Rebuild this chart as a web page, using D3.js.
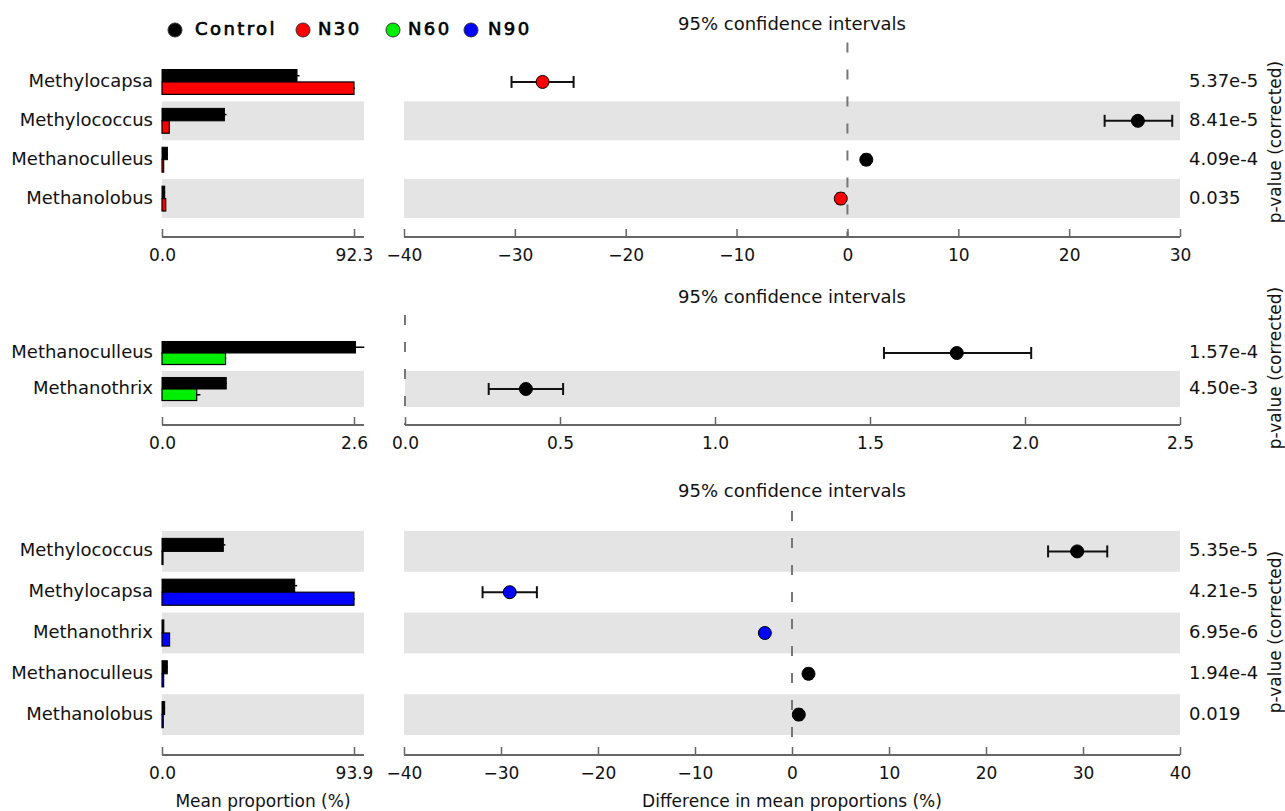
<!DOCTYPE html>
<html>
<head>
<meta charset="utf-8">
<script src="https://cdn.jsdelivr.net/npm/d3@7"></script>
<style>
  body { margin: 0; background: #fff; }
  svg text { font-family: "DejaVu Sans", sans-serif; }
</style>
</head>
<body>
<div id="chart-area"></div>
<script>
// legend
var groups = ["Control", "N30", "N60", "N90"];
var groupColors = ["#000000", "#ff0000", "#00ee00", "#0000ff"];

// panel 1: Control vs N30
var taxa1 = ["Methylocapsa", "Methylococcus", "Methanoculleus", "Methanolobus"];
var control1 = [64.9, 30.0, 2.6, 1.3];
var controlErr1 = [1.2, 1.0, 0.3, 0.2];
var treat1 = [92.3, 3.5, 0.8, 1.8];
var treatErr1 = [0.4, 0.3, 0.1, 0.1];
var diff1 = [-27.5, 26.2, 1.7, -0.6];
var ciLow1 = [-30.3, 23.2, 1.4, -0.9];
var ciHigh1 = [-24.7, 29.3, 2.0, -0.3];
var pvals1 = ["5.37e-5", "8.41e-5", "4.09e-4", "0.035"];
var barMax1 = 92.3;
var ciDomain1 = [-40, 30];
var ciTicks1 = [-40, -30, -20, -10, 0, 10, 20, 30];

// panel 2: Control vs N60
var taxa2 = ["Methanoculleus", "Methanothrix"];
var control2 = [2.62, 0.87];
var controlErr2 = [0.12, 0.01];
var treat2 = [0.86, 0.47];
var treatErr2 = [0.01, 0.05];
var diff2 = [1.78, 0.39];
var ciLow2 = [1.545, 0.27];
var ciHigh2 = [2.02, 0.51];
var pvals2 = ["1.57e-4", "4.50e-3"];
var barMax2 = 2.6;
var ciDomain2 = [0, 2.5];
var ciTicks2 = [0.0, 0.5, 1.0, 1.5, 2.0, 2.5];

// panel 3: Control vs N90
var taxa3 = ["Methylococcus", "Methylocapsa", "Methanothrix", "Methanoculleus", "Methanolobus"];
var control3 = [30.0, 64.9, 0.9, 2.6, 1.3];
var controlErr3 = [1.0, 1.2, 0.05, 0.3, 0.2];
var treat3 = [0.3, 93.9, 3.7, 0.8, 0.6];
var treatErr3 = [0.05, 0.4, 0.2, 0.1, 0.1];
var diff3 = [29.4, -29.1, -2.8, 1.7, 0.7];
var ciLow3 = [26.4, -31.9, -3.1, 1.4, 0.4];
var ciHigh3 = [32.5, -26.3, -2.5, 2.0, 1.0];
var pvals3 = ["5.35e-5", "4.21e-5", "6.95e-6", "1.94e-4", "0.019"];
var barMax3 = 93.9;
var ciDomain3 = [-40, 40];
var ciTicks3 = [-40, -30, -20, -10, 0, 10, 20, 30, 40];

var width = 1285, height = 811;

var svg = d3.select("#chart-area").append("svg")
    .attr("width", width)
    .attr("height", height);

var barX0 = 162, barX1 = 354, barEnd = 364;
var ciX0 = 404, ciX1 = 1180;
var axisColor = "#666";
var bandColor = "#e4e4e4";

function fmtTick(d) {
    return d < 0 ? "\u2212" + Math.abs(d) : String(d);
}

function drawPanel(cfg) {
    var n = cfg.taxa.length;
    var g = svg.append("g");
    var ciStart = cfg.ciStart || ciX0;

    var y = d3.scaleBand()
        .domain(cfg.taxa)
        .range([cfg.top, cfg.bottom])
        .padding(0);

    var xBar = d3.scaleLinear().domain([0, cfg.barMax]).range([barX0, barX1]);
    var xCi = d3.scaleLinear().domain(cfg.ciDomain).range([ciStart, ciX1]);

    // alternating bands (bottom row gray)
    cfg.taxa.forEach(function(t, i) {
        if ((n - 1 - i) % 2 === 0) {
            g.append("rect")
                .attr("x", barX0).attr("y", y(t))
                .attr("width", barEnd - barX0).attr("height", y.bandwidth())
                .attr("fill", bandColor);
            g.append("rect")
                .attr("x", ciStart).attr("y", y(t))
                .attr("width", ciX1 - ciStart).attr("height", y.bandwidth())
                .attr("fill", bandColor);
        }
    });

    // title
    g.append("text")
        .attr("x", (ciX0 + ciX1) / 2)
        .attr("y", cfg.titleY)
        .attr("text-anchor", "middle")
        .attr("dominant-baseline", "middle")
        .attr("font-size", "18px")
        .attr("fill", "#111")
        .text("95% confidence intervals");

    // zero line
    g.append("line")
        .attr("x1", xCi(0)).attr("x2", xCi(0))
        .attr("y1", cfg.top - 20).attr("y2", cfg.axisY)
        .attr("stroke", "#777")
        .attr("stroke-width", 2)
        .attr("stroke-dasharray", "10,17");

    // bars
    var bh = y.bandwidth() * 0.32;
    cfg.taxa.forEach(function(t, i) {
        var cy = y(t) + y.bandwidth() / 2;
        g.append("rect")
            .attr("x", barX0).attr("y", cy - bh)
            .attr("width", Math.max(1, xBar(cfg.control[i]) - barX0)).attr("height", bh)
            .attr("fill", "#000").attr("stroke", "#000").attr("stroke-width", 1);
        g.append("rect")
            .attr("x", barX0).attr("y", cy)
            .attr("width", Math.max(1, xBar(cfg.treat[i]) - barX0)).attr("height", bh)
            .attr("fill", cfg.color).attr("stroke", "#000").attr("stroke-width", 1.2);
        // error whiskers
        g.append("line")
            .attr("x1", xBar(cfg.control[i])).attr("x2", xBar(cfg.control[i] + cfg.controlErr[i]))
            .attr("y1", cy - bh / 2).attr("y2", cy - bh / 2)
            .attr("stroke", "#000").attr("stroke-width", 1.5);
        g.append("line")
            .attr("x1", xBar(cfg.treat[i])).attr("x2", xBar(cfg.treat[i] + cfg.treatErr[i]))
            .attr("y1", cy + bh / 2).attr("y2", cy + bh / 2)
            .attr("stroke", "#000").attr("stroke-width", 1.5);

        // row label
        g.append("text")
            .attr("x", 153).attr("y", cy)
            .attr("text-anchor", "end")
            .attr("dominant-baseline", "middle")
            .attr("font-size", "18px")
            .attr("fill", "#111")
            .text(t);

        // CI
        var capH = 6;
        g.append("line")
            .attr("x1", xCi(cfg.ciLow[i])).attr("x2", xCi(cfg.ciHigh[i]))
            .attr("y1", cy).attr("y2", cy)
            .attr("stroke", "#111").attr("stroke-width", 2);
        [cfg.ciLow[i], cfg.ciHigh[i]].forEach(function(v) {
            g.append("line")
                .attr("x1", xCi(v)).attr("x2", xCi(v))
                .attr("y1", cy - capH).attr("y2", cy + capH)
                .attr("stroke", "#111").attr("stroke-width", 2);
        });
        g.append("circle")
            .attr("cx", xCi(cfg.diff[i])).attr("cy", cy)
            .attr("r", 6.5)
            .attr("fill", cfg.diff[i] >= 0 ? "#000" : cfg.color)
            .attr("stroke", "#000").attr("stroke-width", 1);

        // p-value
        g.append("text")
            .attr("x", 1189).attr("y", cy)
            .attr("dominant-baseline", "middle")
            .attr("font-size", "18px")
            .attr("fill", "#111")
            .text(cfg.pvals[i]);
    });

    // axes
    var barAxis = d3.axisBottom(xBar)
        .tickValues([0, cfg.barMax])
        .tickFormat(d3.format(".1f"))
        .tickSize(-8)
        .tickPadding(12);
    var ba = g.append("g")
        .attr("transform", "translate(0," + cfg.axisY + ")")
        .call(barAxis);
    ba.select(".domain").remove();
    ba.append("line")
        .attr("x1", barX0).attr("x2", barEnd)
        .attr("stroke", axisColor).attr("stroke-width", 2);

    var ciAxis = d3.axisBottom(xCi)
        .tickValues(cfg.ciTicks)
        .tickFormat(cfg.ciFormat || fmtTick)
        .tickSize(-8)
        .tickPadding(12);
    var ca = g.append("g")
        .attr("transform", "translate(0," + cfg.axisY + ")")
        .call(ciAxis);
    ca.select(".domain").remove();
    ca.append("line")
        .attr("x1", ciStart).attr("x2", ciX1)
        .attr("stroke", axisColor).attr("stroke-width", 2);

    [ba, ca].forEach(function(a) {
        a.selectAll(".tick line").attr("stroke", axisColor).attr("stroke-width", 1.5);
        a.selectAll(".tick text")
            .attr("font-size", "17px")
            .attr("font-family", "DejaVu Sans, sans-serif")
            .attr("fill", "#111");
    });

    // side label
    g.append("text")
        .attr("transform", "translate(1281," + cfg.pLabelY + ") rotate(-90)")
        .attr("text-anchor", "middle")
        .attr("font-size", "17px")
        .attr("fill", "#111")
        .text("p-value (corrected)");
}

drawPanel({
    taxa: taxa1, control: control1, controlErr: controlErr1, treat: treat1, treatErr: treatErr1,
    diff: diff1, ciLow: ciLow1, ciHigh: ciHigh1, pvals: pvals1,
    barMax: barMax1, ciDomain: ciDomain1, ciTicks: ciTicks1,
    color: groupColors[1], top: 62.5, bottom: 218, axisY: 237, titleY: 25, pLabelY: 142
});

drawPanel({
    taxa: taxa2, control: control2, controlErr: controlErr2, treat: treat2, treatErr: treatErr2,
    diff: diff2, ciLow: ciLow2, ciHigh: ciHigh2, pvals: pvals2,
    barMax: barMax2, ciDomain: ciDomain2, ciTicks: ciTicks2, ciFormat: d3.format(".1f"), ciStart: 405,
    color: groupColors[2], top: 335, bottom: 407, axisY: 425, titleY: 298, pLabelY: 368
});

drawPanel({
    taxa: taxa3, control: control3, controlErr: controlErr3, treat: treat3, treatErr: treatErr3,
    diff: diff3, ciLow: ciLow3, ciHigh: ciHigh3, pvals: pvals3,
    barMax: barMax3, ciDomain: ciDomain3, ciTicks: ciTicks3,
    color: groupColors[3], top: 531, bottom: 735, axisY: 755, titleY: 492, pLabelY: 632
});

// bottom axis titles
svg.append("text")
    .attr("x", 263).attr("y", 802)
    .attr("text-anchor", "middle").attr("dominant-baseline", "middle")
    .attr("font-size", "17px").attr("fill", "#111")
    .text("Mean proportion (%)");
svg.append("text")
    .attr("x", 792).attr("y", 802)
    .attr("text-anchor", "middle").attr("dominant-baseline", "middle")
    .attr("font-size", "17px").attr("fill", "#111")
    .text("Difference in mean proportions (%)");

// legend
var legendX = [175, 303, 393, 471];
var legend = svg.append("g");
groups.forEach(function(name, i) {
    legend.append("circle")
        .attr("cx", legendX[i]).attr("cy", 30).attr("r", 7)
        .attr("fill", groupColors[i])
        .attr("stroke", "#333").attr("stroke-width", 1);
    legend.append("text")
        .attr("x", legendX[i] + (i === 0 ? 20 : (i === 3 ? 17 : 15)))
        .attr("y", 30)
        .attr("dominant-baseline", "middle")
        .attr("font-size", "18px")
        .attr("letter-spacing", "2.4px")
        .attr("stroke", "#000")
        .attr("stroke-width", 0.7)
        .attr("fill", "#000")
        .text(name);
});
</script>
</body>
</html>
